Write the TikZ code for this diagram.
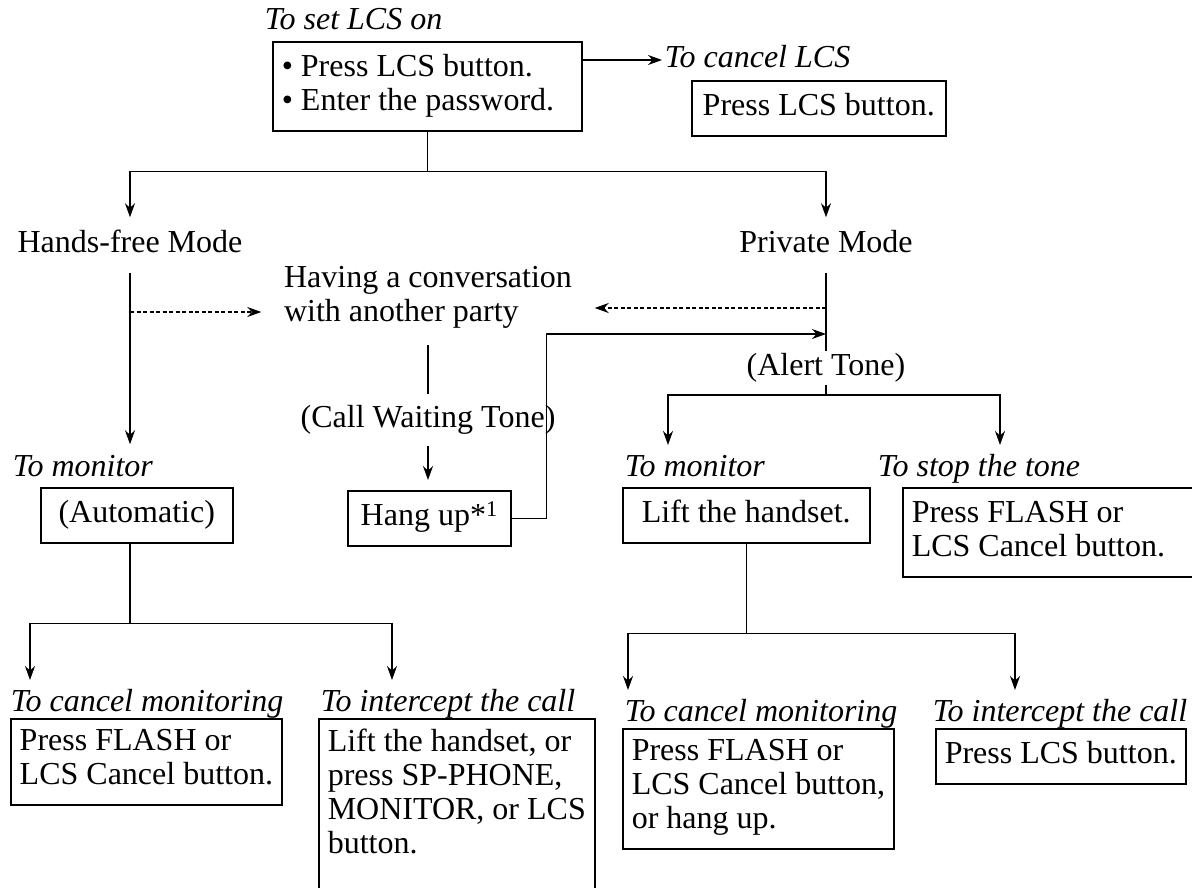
\documentclass[tikz,border=0pt]{standalone}
\usepackage{fontspec}
\setmainfont{Liberation Serif}
\usetikzlibrary{arrows.meta,positioning}

\begin{document}
\begin{tikzpicture}[
  x=1pt, y=-1pt,
  font=\fontsize{32}{34}\selectfont,
  line width=1.5pt,
  box/.style={draw, anchor=north west, align=flush left, inner xsep=9pt, inner ysep=10.5pt,
              execute at begin node=\strut, execute at end node=\strut},
  lbl/.style={anchor=west, font=\fontsize{32}{34}\selectfont\itshape, inner xsep=2pt,
              inner ysep=9pt, text height=22pt, text depth=7pt},
  txt/.style={text height=22pt, text depth=7pt},
  arr/.style={-{Stealth[length=14pt, width=10pt]}},
  dasharr/.style={arr, line width=1.2pt, dash pattern=on 4pt off 2.5pt}
]
\useasboundingbox (0,0) rectangle (1192,887);

% top: setting and cancelling LCS
\node[lbl] (lblset) at (262,22) {To set LCS on};
\node[box, text width=291pt] (setbox) at (272,41) {\textbullet{} Press LCS button.\\\textbullet{} Enter the password.};
\node[lbl] (lblcancel) at (662,60) {To cancel LCS};
\node[box, align=center, minimum width=254pt] (cancelbox) at (691,80) {Press LCS button.};

% the two modes and the conversation
\node[txt, inner ysep=12.5pt] (hands) at (130,245) {Hands-free Mode};
\node[txt, inner ysep=12.5pt] (priv) at (826,245) {Private Mode};
\node[align=left, inner xsep=22pt, inner ysep=16.5pt] (conv) at (428,297) {Having a conversation\\with another party};
\node[txt, inner ysep=10.5pt] (cwt) at (428,420) {(Call Waiting Tone)};
\node[txt, inner ysep=1.5pt] (alert) at (826,368) {(Alert Tone)};

% middle row
\node[lbl] (lblmonL) at (10,468.5) {To monitor};
\node[box, align=center, minimum width=192pt] (autobox) at (40,487) {(Automatic)};
\node[box, align=center, minimum width=163pt] (hangbox) at (347,490) {Hang up*\textsuperscript{1}};
\node[lbl] (lblmonR) at (622,468.5) {To monitor};
\node[box, align=center, minimum width=247pt] (liftbox) at (622,487) {Lift the handset.};
\node[lbl] (lblstop) at (875,468.5) {To stop the tone};
\node[box, text width=272pt] (stopbox) at (902,487) {Press FLASH or\\LCS Cancel button.};

% bottom row
\node[lbl] (lblcancL) at (8,703.5) {To cancel monitoring};
\node[box] (cancL) at (10,718) {Press FLASH or\\LCS Cancel button.};
\node[lbl] (lblinterL) at (318,703.5) {To intercept the call};
\node[box] (interL) at (318,718) {Lift the handset, or\\press SP-PHONE,\\MONITOR, or LCS\\button.\\\mbox{}};
\node[lbl] (lblcancR) at (622,713.5) {To cancel monitoring};
\node[box] (cancR) at (622,728) {Press FLASH or\\LCS Cancel button,\\or hang up.};
\node[lbl] (lblinterR) at (930,713.5) {To intercept the call};
\node[box, minimum width=250pt] (interR) at (935,728) {Press LCS button.};

% branch points and arrow ends
\coordinate (dashL) at (130,312);
\coordinate (dashR) at (826,308);
\coordinate (ret) at (826,334);
\coordinate (forkR) at (826,395);
\coordinate (tipMonR) at (668,445);
\coordinate (tipStop) at (1000,445);
\coordinate (tipCancL) at (30,680);
\coordinate (tipInterL) at (392,680);
\coordinate (tipCancR) at (628,690);
\coordinate (tipInterR) at (1015,690);

\draw[arr] (setbox.east |- lblcancel.west) -- (lblcancel.west);
\draw (setbox.south) -- ++(0,40) coordinate (forkT);
\draw[arr] (forkT) -| (hands);
\draw[arr] (forkT) -| (priv);

\draw[arr] (hands) -- (hands |- lblmonL.north);
\draw[dasharr] (dashL) -- (dashL -| conv.west);
\draw[dasharr] (dashR) -- (dashR -| conv.east);
\draw (conv) -- (cwt);
\draw[arr, shorten >=10pt] (cwt.south) -- (cwt.south |- hangbox.north);
\draw[arr] (hangbox.east) -- ++(35,0) |- (ret);

\draw (priv) -- (alert);
\draw (alert) -- (forkR);
\draw[arr] (forkR) -| (tipMonR);
\draw[arr] (forkR) -| (tipStop);

\draw (hands |- autobox.south) -- ++(0,80) coordinate (forkBL);
\draw[arr] (forkBL) -| (tipCancL);
\draw[arr] (forkBL) -| (tipInterL);

\draw (liftbox.south) -- ++(0,90) coordinate (forkBR);
\draw[arr] (forkBR) -| (tipCancR);
\draw[arr] (forkBR) -| (tipInterR);
\end{tikzpicture}
\end{document}
